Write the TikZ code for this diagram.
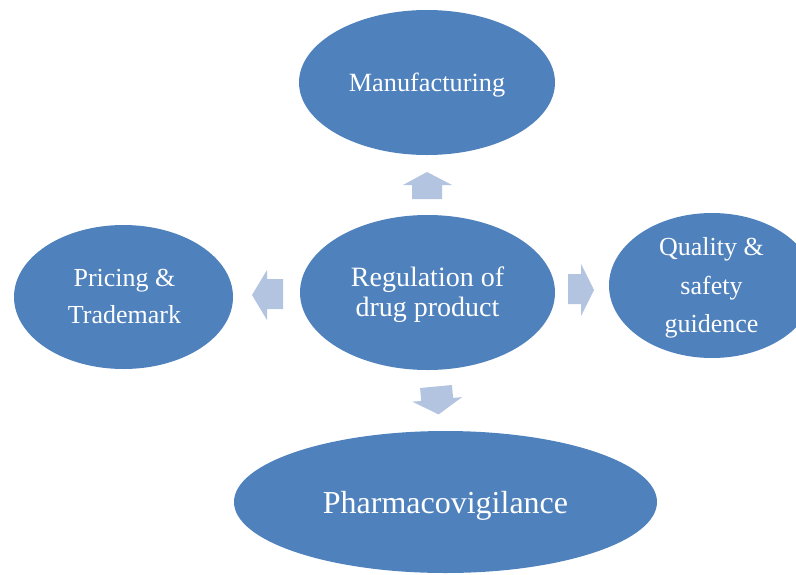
\documentclass[tikz,border=0pt]{standalone}
\usepackage{fontspec}
\setmainfont{Liberation Serif}
\usetikzlibrary{shapes.geometric}
\definecolor{bubble}{HTML}{4F81BD}
\definecolor{arrowfill}{RGB}{179,196,224}
\tikzset{
  bubble/.style={ellipse, fill=bubble, draw=none, inner sep=0pt},
  lbl/.style={text=white, align=center, inner sep=0pt},
  blockarrow/.style={fill=arrowfill, draw=none},
}
\begin{document}
\begin{tikzpicture}[x=1pt,y=-1pt]
\useasboundingbox (0,0) rectangle (796,574);
\clip (0,0) rectangle (796,574);
% ellipses
\node[bubble, minimum width=256pt, minimum height=145pt] (manu) at (427,82.5) {};
\node[bubble, minimum width=255pt, minimum height=155pt] (reg) at (427.5,292.5) {};
\node[bubble, minimum width=219pt, minimum height=144pt] (price) at (123.5,297) {};
\node[bubble, minimum width=206pt, minimum height=145pt] (qual) at (712,285.5) {};
\node[bubble, minimum width=423pt, minimum height=142pt] (pharma) at (445.5,502) {};
% labels
\node[lbl, font=\fontsize{26.3}{30}\selectfont] (tmanu) at (427,85) {Manufacturing};
\node[lbl, font=\fontsize{28}{29.5}\selectfont] (treg) at (427.5,294.5) {Regulation of\\drug product};
\node[lbl, font=\fontsize{26}{36.5}\selectfont] (tprice) at (124.5,296.5) {Pricing \&\\Trademark};
\node[lbl, font=\fontsize{26}{38.5}\selectfont] (tqual) at (711.5,288) {Quality \&\\safety\\guidence};
\node[lbl, font=\fontsize{32}{38}\selectfont] (tpharma) at (445.5,505.5) {Pharmacovigilance};
% block arrows
\fill[blockarrow] (412,199) -- (412,185) -- (403,185) -- (427,172) -- (452,185) -- (442,185) -- (442,199) -- cycle;
\fill[blockarrow] (283,279) -- (267,279) -- (267,270) -- (252,295) -- (267,320) -- (267,309) -- (283,309) -- cycle;
\fill[blockarrow] (568,274) -- (581,274) -- (581,264) -- (594,290) -- (581,316) -- (581,304) -- (568,304) -- cycle;
\fill[blockarrow] (420.1,388) -- (451.9,385) -- (453.1,397.9) -- (462.1,397.1) -- (438.6,414.4) -- (412.3,401.7) -- (421.3,400.9) -- cycle;
\end{tikzpicture}
\end{document}
